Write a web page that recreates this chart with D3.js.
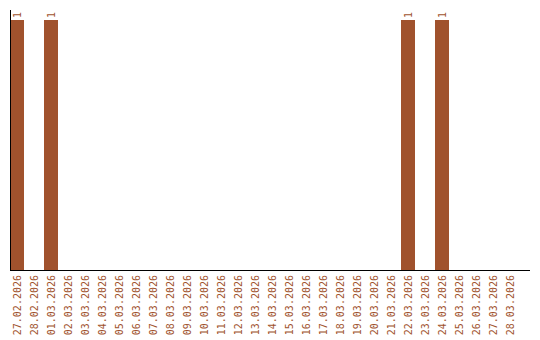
<!DOCTYPE html>
<html>
<head>
<meta charset="utf-8">
<script src="https://d3js.org/d3.v7.min.js"></script>
<style>
  body { margin: 0; background: #fff; }
</style>
</head>
<body>
<div id="chart"></div>
<script>
const dates = ["27.02.2026", "28.02.2026", "01.03.2026", "02.03.2026", "03.03.2026", "04.03.2026",
  "05.03.2026", "06.03.2026", "07.03.2026", "08.03.2026", "09.03.2026", "10.03.2026",
  "11.03.2026", "12.03.2026", "13.03.2026", "14.03.2026", "15.03.2026", "16.03.2026",
  "17.03.2026", "18.03.2026", "19.03.2026", "20.03.2026", "21.03.2026", "22.03.2026",
  "23.03.2026", "24.03.2026", "25.03.2026", "26.03.2026", "27.03.2026", "28.03.2026"];
const counts = [1, 0, 1, 0, 0, 0, 0, 0, 0, 0, 0, 0, 0, 0, 0, 0, 0, 0, 0, 0, 0, 0, 0, 1, 0, 1, 0, 0, 0, 0];

const data = dates.map((d, i) => ({ date: d, count: counts[i] }));

const width = 540, height = 340;
const marginLeft = 10, baseY = 270, topY = 10;
const color = "#a0522d";

const svg = d3.select("#chart")
  .append("svg")
  .attr("width", width)
  .attr("height", height);

// x scale: step 17px, bar 14px
const x = d3.scaleBand()
  .domain(dates)
  .range([marginLeft, marginLeft + 17 * dates.length - 3])
  .paddingInner(3 / 17)
  .paddingOuter(0);

const y = d3.scaleLinear()
  .domain([0, 1])
  .range([baseY, 20]);

// bars
svg.selectAll("rect.bar")
  .data(data.filter(d => d.count > 0))
  .join("rect")
  .attr("class", "bar")
  .attr("x", d => x(d.date))
  .attr("y", d => y(d.count))
  .attr("width", x.bandwidth())
  .attr("height", d => baseY - y(d.count))
  .attr("fill", color);

// value labels
svg.selectAll("text.val")
  .data(data.filter(d => d.count > 0))
  .join("text")
  .attr("class", "val")
  .attr("transform", d => `translate(${x(d.date) + x.bandwidth() / 2},${y(d.count) - 2}) rotate(-90)`)
  .attr("dy", "0.35em")
  .attr("text-anchor", "start")
  .attr("fill", color)
  .style("font-family", "DejaVu Sans Mono")
  .style("font-size", "10px")
  .text(d => d.count);

// axes lines
svg.append("line")
  .attr("x1", marginLeft + 0.5).attr("x2", marginLeft + 0.5)
  .attr("y1", topY).attr("y2", baseY)
  .attr("stroke", "#000");
svg.append("line")
  .attr("x1", marginLeft).attr("x2", 530)
  .attr("y1", baseY + 0.5).attr("y2", baseY + 0.5)
  .attr("stroke", "#000");

// category labels
svg.selectAll("text.cat")
  .data(dates)
  .join("text")
  .attr("class", "cat")
  .attr("transform", d => `translate(${x(d) + x.bandwidth() / 2},${baseY + 5}) rotate(-90)`)
  .attr("dy", "0.35em")
  .attr("text-anchor", "end")
  .attr("fill", color)
  .style("font-family", "DejaVu Sans Mono")
  .style("font-size", "10px")
  .text(d => d);
</script>
</body>
</html>
